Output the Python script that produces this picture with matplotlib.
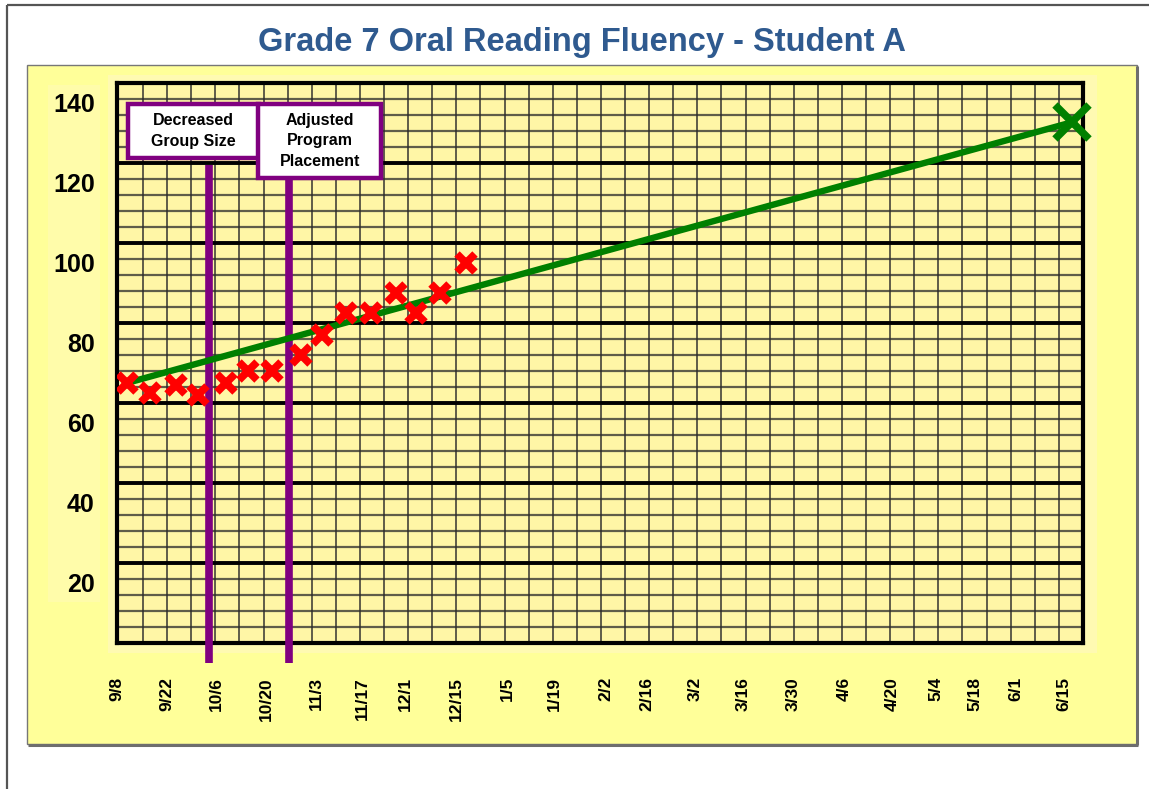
import matplotlib
matplotlib.use("Agg")
import matplotlib.pyplot as plt
from matplotlib.patches import Rectangle

plt.rcParams['font.family'] = ['Liberation Sans', 'DejaVu Sans']

# ---------------- data ----------------
title = "Grade 7 Oral Reading Fluency - Student A"
date_labels = ["9/8", "9/22", "10/6", "10/20", "11/3", "11/17", "12/1", "12/15",
               "1/5", "1/19", "2/2", "2/16", "3/2", "3/16", "3/30", "4/6",
               "4/20", "5/4", "5/18", "6/1", "6/15"]
date_weeks = [-0.08, 2.0, 4.06, 6.1, 8.2, 10.1, 11.9, 14.0, 16.1, 18.05, 20.2,
              21.9, 23.9, 25.9, 27.98, 30.1, 32.1, 33.9, 35.5, 37.2, 39.2]
y_ticks = [20, 40, 60, 80, 100, 120, 140]

score_weeks = [0.33, 1.30, 2.36, 3.26, 4.44, 5.34, 6.34, 7.55, 8.44, 9.44,
               10.44, 11.51, 12.31, 13.33, 14.41]
score_values = [70, 67.5, 69.5, 67, 70, 73, 73, 77, 82, 87.5, 87.5, 92.5,
                87.5, 92.5, 100]

aim_weeks = [0.33, 39.55]
aim_values = [70, 135.2]

event_labels = ["Decreased\nGroup Size", "Adjusted\nProgram\nPlacement"]
event_weeks = [3.73, 7.04]

# ---------------- figure ----------------
W, H = 1149, 789
fig = plt.figure(figsize=(W / 100, H / 100), dpi=100)
fig.patch.set_facecolor('white')

bg = fig.add_axes([0, 0, 1, 1], zorder=0)
bg.set_xlim(0, W)
bg.set_ylim(H, 0)
bg.axis('off')

# outer frame (left and top only)
bg.plot([7, 7], [5, H], color='#555555', lw=1.6, solid_capstyle='butt')
bg.plot([7, W], [5, 5], color='#555555', lw=1.6, solid_capstyle='butt')

# yellow panel
bg.add_patch(Rectangle((27, 65), 1110, 679, facecolor='#FFFF99',
                       edgecolor='#777777', lw=1.0))
bg.plot([1137, 1137], [66, 745], color='#6e6e6e', lw=2.2, solid_capstyle='butt')
bg.plot([28, 1138], [744.5, 744.5], color='#6e6e6e', lw=2.2, solid_capstyle='butt')
# pale bands
bg.add_patch(Rectangle((108, 75), 989, 578, facecolor='#FFFAB2', edgecolor='none'))
bg.add_patch(Rectangle((48, 85), 52, 517, facecolor='#FFFCAA', edgecolor='none'))

bg.text(582, 51, title, ha='center', va='baseline', fontsize=23.5,
        fontweight='bold', color='#2F5A8F')

# ---------------- main plot ----------------
L, T, R, B = 117, 83, 1083, 643
ax = fig.add_axes([L / W, (H - B) / H, (R - L) / W, (B - T) / H], zorder=2)
ax.set_facecolor('#FFF6A6')
ax.set_xlim(0, 40)
ax.set_ylim(5, 145)

# grid
minor_h = [5 + 4 * k for k in range(1, 35) if (4 * k) % 20 != 0]
major_h = [25, 45, 65, 85, 105, 125]
ax.hlines(minor_h, 0, 40, colors='#2a2a2a', lw=1.6, alpha=0.75, zorder=1)
ax.vlines(range(1, 40), 5, 145, colors='#2a2a2a', lw=1.4, alpha=0.75, zorder=1)
ax.hlines(major_h, 0, 40, colors='black', lw=2.8, zorder=1.5)

for s in ax.spines.values():
    s.set_linewidth(3.0)
    s.set_color('black')
    s.set_zorder(3)

# ticks
ax.set_yticks(y_ticks)
ax.set_yticklabels([str(v) for v in y_ticks], fontsize=18, fontweight='bold')
ax.set_xticks(date_weeks)
ax.set_xticklabels(date_labels, rotation=90, fontsize=12.5, fontweight='bold')
ax.tick_params(axis='y', length=0, pad=16)
ax.tick_params(axis='x', length=0, pad=24.5)

# intervention lines and boxes
box_specs = [((0.37, 126.25), 5.43, 13.5, 124.5),
             ((5.76, 121.25), 5.13, 18.5, 121.25)]
for (xy, bw, bh, ytop), lab, wk in zip(box_specs, event_labels, event_weeks):
    ax.plot([wk, wk], [0, ytop], color='#800080', lw=5.5, clip_on=False,
            solid_capstyle='butt', zorder=4)
for (xy, bw, bh, ytop), lab, wk in zip(box_specs, event_labels, event_weeks):
    ax.add_patch(Rectangle(xy, bw, bh, facecolor='white', edgecolor='#800080',
                           lw=3.2, zorder=6, clip_on=False))
    ax.text(xy[0] + bw / 2, xy[1] + bh / 2, lab, ha='center', va='center',
            fontsize=11.5, fontweight='bold', linespacing=1.42, zorder=7)

# aimline
ax.plot(aim_weeks, aim_values, color='#008000', lw=4.6, zorder=5,
        solid_capstyle='butt')
ax.plot([aim_weeks[-1]], [aim_values[-1]], marker='x', ms=24, mew=5.5,
        color='#008000', zorder=5, clip_on=False, linestyle='none')

# scores
ax.plot(score_weeks, score_values, marker='x', ms=12.5, mew=5.5, color='#FF0000',
        linestyle='none', zorder=5.5)

fig.savefig('out.png', dpi=100)
